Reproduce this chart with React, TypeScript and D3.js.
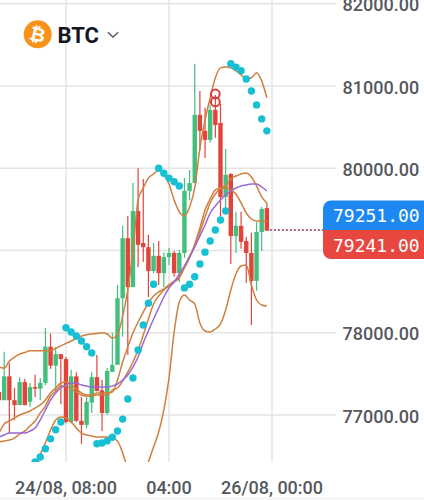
import React from "react";
import * as d3 from "d3";

const firstIndex = -13;
const opens = [77280,77180,77470,77180,77120,77400,77160,77340,77320,77390,77830,77600,77740,77680,76915,77470,76930,76880,77150,77460,77300,77025,77525,77610,78420,79150,78555,79480,79090,79040,78750,78935,78725,78920,78970,78725,78970,79725,79820,80650,80455,80345,80710,80550,79650,79930,79175,79300,79115,78970,78630,79225,79515];
const highs = [77365,77770,77630,77330,77460,77440,77390,77490,77450,78060,77990,77830,77740,77705,77550,77520,77220,77220,77520,77730,77425,77570,78000,78580,79300,79420,79820,80000,79870,79190,79090,79115,78980,79030,78995,79005,79880,79980,81270,80940,80735,80770,80890,80780,80235,79940,79470,79470,79165,79215,79345,79530,79580];
const lows = [77160,77180,76780,76940,77120,77120,77100,77220,77180,77365,77560,77280,77130,76900,76900,76915,76650,76840,77025,77290,76805,77000,77525,77610,77950,77730,78555,78800,78860,78435,78725,78580,78555,78825,78680,78615,78910,79615,79820,80220,80125,80310,80370,79420,79455,78835,78970,79020,78605,78095,78510,78995,79240];
const closes = [77180,77470,77180,77120,77400,77120,77340,77320,77390,77830,77600,77740,77680,76915,77470,76930,76880,77160,77460,77290,77025,77535,77610,78420,79150,78555,79480,79070,79040,78750,78935,78725,78920,78970,78725,78970,79725,79820,80650,80455,80345,80710,80525,79650,79920,79175,79300,79105,78970,78630,79225,79505,79241];

const upperBand = [77585,77570,77655,77705,77740,77760,77780,77780,77780,77780,77780,77810,77840,77870,77900,77930,77960,77975,77985,77990,78000,77985,77935,77975,78205,78520,79005,79615,79760,79880,79930,79980,79920,79810,79615,79470,79420,79530,79760,80245,80585,80855,81100,81220,81230,81220,81185,81135,81085,81100,81160,81060,80855];
const middleBand = [76780,76890,76927,76964,77000,77024,77049,77085,77122,77182,77268,77328,77389,77401,77365,77316,77268,77243,77243,77268,77268,77268,77280,77426,77644,77827,77997,78131,78252,78362,78447,78496,78532,78581,78629,78678,78788,78909,79079,79274,79493,79627,79736,79760,79785,79870,79906,79931,79943,79894,79785,79651,79578];
const slowAverage = [76672,76684,76696,76720,76769,76805,76866,76927,77024,77109,77231,77292,77353,77353,77316,77280,77243,77231,77231,77243,77243,77243,77304,77328,77413,77523,77644,77790,77973,78167,78350,78447,78520,78569,78617,78666,78800,78933,79055,79225,79408,79578,79687,79748,79760,79736,79687,79578,79456,79383,79359,79359,79359];
const purpleAverage = [76732,76757,76781,76781,76781,76781,76805,76842,76939,77061,77182,77268,77328,77365,77389,77389,77365,77353,77340,77340,77340,77340,77353,77377,77426,77486,77584,77705,77876,78021,78167,78301,78435,78544,78617,78715,78812,78921,79043,79177,79310,79456,79541,79614,79675,79724,79760,79785,79797,79809,79809,79772,79724];
const lowerBandStart = -7;
const lowerBand = [76088,76270,76514,76660,76818,76939,76976,76964,76915,76842,76781,76757,76745,76732,76732,76732,76720,76684,76538,76331,76088,76027,76210,76428,76611,76793,77061,77450,78009,78374,78459,78398,78350,78119,78021,78009,78046,78107,78277,78520,78715,78812,78824,78581,78398,78338,78325];

const sarStart = -6;
const sarValues = [76430,76490,76590,76710,76820,76915,78060,78010,77960,77900,77830,77755,76650,76660,76685,76730,76805,76950,77195,77450,77790,78095,78360,78590,80000,79940,79880,79835,79785,78545,78590,78680,78835,78980,79115,79250,79370,79480,81270,81230,81185,81085,80940,80770,80600,80455];

const signalIndex = 29;
const signalPrices = [80903, 80806];

const gridPrices = [82000, 81000, 80000, 79000, 78000, 77000];
const priceLabels = [82000, 81000, 80000, 78000, 77000];
const timeTicks: [number, string][] = [[0, "24/08, 08:00"], [20, "04:00"], [39, "26/08, 00:00"]];
const gridTimeIndex = [0, 20, 40];
const askPrice = 79251;
const bidPrice = 79241;

const GREEN = "#43BF7D";
const RED = "#E2433A";
const ORANGE = "#CF7F3E";
const PURPLE = "#9A68D8";
const TEAL = "#17BFD3";
const GRID = "#E3E3E3";
const AXIS = "#55585C";
const FONT = "Roboto, sans-serif";

export default function App() {
  const x = d3.scaleLinear().domain([0, 20]).range([66, 169]);
  const y = d3.scaleLinear().domain([77000, 81000]).range([415, 86]);
  const lineFor = (start: number) =>
    d3.line<number>().x((_, i) => x(start + i)).y((d) => y(d)).curve(d3.curveMonotoneX);
  const series = [
    { v: upperBand, s: firstIndex, c: ORANGE },
    { v: slowAverage, s: firstIndex, c: ORANGE },
    { v: middleBand, s: firstIndex, c: ORANGE },
    { v: purpleAverage, s: firstIndex, c: PURPLE },
    { v: lowerBand, s: lowerBandStart, c: ORANGE },
  ];
  return (
    <svg width={424} height={500} style={{ position: "fixed", left: 0, top: 0, background: "#fff" }}>
      <defs>
        <clipPath id="plot"><rect x={0} y={0} width={335} height={462} /></clipPath>
      </defs>
      <rect x={0} y={497} width={424} height={3} fill="#F6F6F6" />
      {gridPrices.map((p) => (
        <line key={p} x1={0} x2={336} y1={y(p)} y2={y(p)} stroke={GRID} strokeWidth={1.4} />
      ))}
      {gridTimeIndex.map((t) => (
        <line key={t} x1={x(t)} x2={x(t)} y1={0} y2={462} stroke={GRID} strokeWidth={1.4} />
      ))}
      <g clipPath="url(#plot)">
        {opens.map((o, k) => {
          const c = closes[k];
          const cx = x(firstIndex + k);
          const col = c >= o ? GREEN : RED;
          const top = y(Math.max(o, c));
          const bot = y(Math.min(o, c));
          return (
            <g key={k}>
              <line x1={cx} x2={cx} y1={y(highs[k])} y2={y(lows[k])} stroke={col} strokeWidth={1.2} />
              <rect x={cx - 2.2} y={top} width={4.4} height={Math.max(bot - top, 1)} fill={col} />
            </g>
          );
        })}
        {series.map((l, k) => (
          <path key={k} d={lineFor(l.s)(l.v) ?? ""} fill="none" stroke={l.c} strokeWidth={1.5} />
        ))}
        {sarValues.map((v, k) => (
          <circle key={k} cx={x(sarStart + k)} cy={y(v)} r={3.7} fill={TEAL} />
        ))}
      </g>
      {signalPrices.map((p) => (
        <circle key={p} cx={x(signalIndex)} cy={y(p)} r={4.4} fill="none" stroke="#DA3B3B" strokeWidth={2} />
      ))}

      <line x1={x(39) + 3} x2={324} y1={y(bidPrice) - 0.6} y2={y(bidPrice) - 0.6} stroke="#8A3550" strokeWidth={1.5} strokeDasharray="2 2" />
      <path d="M424 200.5H331a8 8 0 0 0-8 8V230H424Z" fill="#1E88F2" />
      <path d="M424 230H323V251a8 8 0 0 0 8 8H424Z" fill="#E8473F" />
      <text x={333} y={222} fontFamily="'DejaVu Sans Mono', monospace" fontSize={18} fill="#fff">{askPrice.toFixed(2)}</text>
      <text x={333} y={252} fontFamily="'DejaVu Sans Mono', monospace" fontSize={18} fill="#fff">{bidPrice.toFixed(2)}</text>

      {priceLabels.map((p) => (
        <text key={p} x={342.5} y={y(p) + 7.5} fontFamily={FONT} fontWeight={500} fontSize={18} fill={AXIS}>{p.toFixed(2)}</text>
      ))}
      {timeTicks.map(([t, s]) => (
        <text key={s} x={t === 39 ? 272 : x(t)} y={494} textAnchor="middle" fontFamily={FONT} fontWeight={500} fontSize={18} fill={AXIS}>{s}</text>
      ))}

      <circle cx={37.7} cy={34.3} r={14} fill="#F7931A" />
      <text x={37.7} y={41} textAnchor="middle" fontFamily="'DejaVu Sans', sans-serif" fontWeight={700} fontSize={19} fill="#fff" transform="rotate(14 37.7 34.3)">₿</text>
      <text x={57.5} y={42.7} fontFamily={FONT} fontWeight={700} fontSize={22} fill="#131722">BTC</text>
      <path d="M107.8 32.2L113 37L118.2 32.2" fill="none" stroke="#55585C" strokeWidth={1.3} />
    </svg>
  );
}
